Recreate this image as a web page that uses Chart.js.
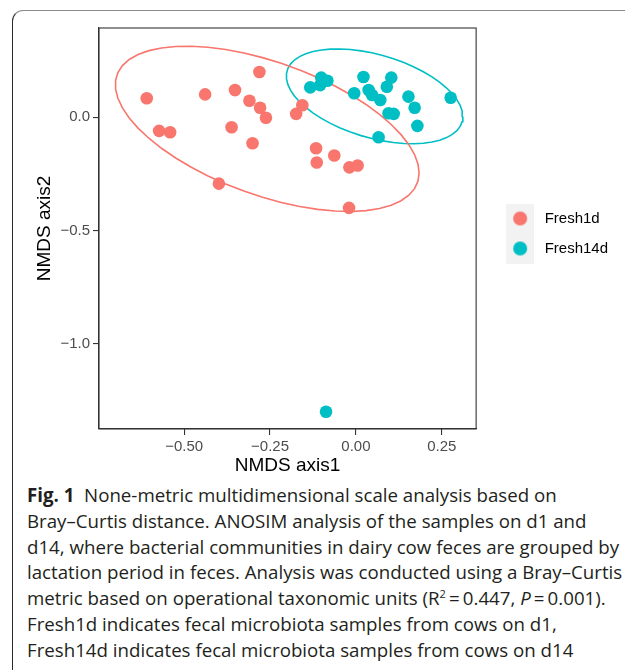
<!DOCTYPE html>
<html>
<head>
<meta charset="utf-8">
<script src="https://cdn.jsdelivr.net/npm/chart.js@4.4.1/dist/chart.umd.min.js"></script>
<style>
  html, body { margin: 0; padding: 0; background: #fff; }
  body { width: 625px; height: 670px; position: relative; overflow: hidden; }
  .frame { position: absolute; left: 12px; top: 10px; width: 700px; height: 700px;
           border-left: 1px solid #2b2b2b; border-top: 1px solid #8a8a8a; border-top-left-radius: 11px; }
  .plot { position: absolute; left: 0; top: 0; width: 625px; height: 480px; }
  .caption { position: absolute; left: 27px; top: 482px; font-family: 'Open Sans', sans-serif;
             font-size: 18.7px; line-height: 25.8px; color: #231f20; white-space: nowrap; }
  .caption b { font-weight: 700; }
  .caption sup { font-size: 11px; line-height: 0; vertical-align: 7px; }
</style>
</head>
<body>
<div class="frame"></div>
<div class="plot"><canvas id="nmds"></canvas></div>
<div class="caption">
  <b>Fig. 1</b>&nbsp; None-metric multidimensional scale analysis based on<br>
  Bray–Curtis distance. ANOSIM analysis of the samples on d1 and<br>
  d14, where bacterial communities in dairy cow feces are grouped by<br>
  lactation period in feces. Analysis was conducted using a Bray–Curtis<br>
  metric based on operational taxonomic units (R<sup>2</sup>&thinsp;=&thinsp;0.447, <i>P</i>&thinsp;=&thinsp;0.001).<br>
  Fresh1d indicates fecal microbiota samples from cows on d1,<br>
  Fresh14d indicates fecal microbiota samples from cows on d14
</div>
<script>
// NMDS coordinates
const fresh1dX = [-0.609, -0.439, -0.352, -0.281, -0.310, -0.279, -0.262, -0.573, -0.541, -0.362,
                  -0.301, -0.399, -0.174, -0.156, -0.116, -0.114, -0.063, -0.019, 0.005, -0.020];
const fresh1dY = [0.084, 0.101, 0.120, 0.200, 0.073, 0.042, -0.002, -0.060, -0.066, -0.044,
                  -0.115, -0.293, 0.015, 0.053, -0.137, -0.200, -0.169, -0.221, -0.213, -0.400];
const fresh14dX = [-0.133, -0.101, -0.104, -0.083, 0.022, -0.005, 0.037, 0.047, 0.071, 0.090,
                   0.103, 0.095, 0.110, 0.153, 0.171, 0.179, 0.276, 0.066, -0.087];
const fresh14dY = [0.132, 0.175, 0.142, 0.161, 0.178, 0.106, 0.120, 0.098, 0.076, 0.135,
                   0.175, 0.018, 0.015, 0.091, 0.042, -0.038, 0.086, -0.088, -1.300];

const groups = ['Fresh1d', 'Fresh14d'];
const groupColors = ['#F8766D', '#00BFC4'];
const xTicks = [-0.5, -0.25, 0, 0.25];
const yTicks = [-1.0, -0.5, 0];
const xRange = [-0.748, 0.35];
const yRange = [-1.376, 0.394];

const FONT = "'Liberation Sans', Arial, sans-serif";

// robust (multivariate t) covariance, like MASS::cov.trob used by stat_ellipse
function covTrob(xs, ys) {
    const n = xs.length, nu = 5;
    let w = new Array(n).fill(1);
    let lx = xs.reduce((s, v) => s + v, 0) / n;
    let ly = ys.reduce((s, v) => s + v, 0) / n;
    let dx = [], dy = [];
    for (let it = 0; it < 25; it++) {
        const w0 = w.slice();
        dx = xs.map(v => v - lx);
        dy = ys.map(v => v - ly);
        const sw = w.reduce((s, v) => s + v, 0);
        let a = 0, b = 0, c = 0;
        for (let i = 0; i < n; i++) {
            a += w[i] * dx[i] * dx[i] / sw;
            b += w[i] * dx[i] * dy[i] / sw;
            c += w[i] * dy[i] * dy[i] / sw;
        }
        const det = a * c - b * b;
        w = dx.map((x, i) => (nu + 2) / (nu + (c * x * x - 2 * b * x * dy[i] + a * dy[i] * dy[i]) / det));
        const sw2 = w.reduce((s, v) => s + v, 0);
        lx = xs.reduce((s, v, i) => s + w[i] * v, 0) / sw2;
        ly = ys.reduce((s, v, i) => s + w[i] * v, 0) / sw2;
        if (w.every((v, i) => Math.abs(v - w0[i]) < 0.01)) break;
    }
    let a = 0, b = 0, c = 0;
    for (let i = 0; i < n; i++) {
        a += w[i] * dx[i] * dx[i] / n;
        b += w[i] * dx[i] * dy[i] / n;
        c += w[i] * dy[i] * dy[i] / n;
    }
    return { cx: lx, cy: ly, a, b, c };
}

// 95% ellipse path, same recipe as ggplot2::stat_ellipse
function ellipsePath(xs, ys) {
    const { cx, cy, a, b, c } = covTrob(xs, ys);
    const dfd = xs.length - 1;
    const fq = (dfd / 2) * (Math.pow(0.05, -2 / dfd) - 1);
    const radius = Math.sqrt(2 * fq);
    const r11 = Math.sqrt(a), r12 = b / r11, r22 = Math.sqrt(c - r12 * r12);
    const pts = [];
    for (let k = 0; k <= 51; k++) {
        const t = 2 * Math.PI * k / 51;
        const ux = Math.cos(t), uy = Math.sin(t);
        pts.push({ x: cx + radius * ux * r11, y: cy + radius * (ux * r12 + uy * r22) });
    }
    return pts;
}

const toPoints = (xs, ys) => xs.map((x, i) => ({ x, y: ys[i] }));

// legend key: grey ggplot key square with the coloured dot
function keyImage(color) {
    const cv = document.createElement('canvas');
    cv.width = 40; cv.height = 30;
    const c = cv.getContext('2d');
    c.fillStyle = '#F2F2F2';
    c.fillRect(12, 0, 28, 30);
    c.fillStyle = color;
    c.beginPath();
    c.arc(26, 15, 7, 0, Math.PI * 2);
    c.fill();
    return cv;
}

const fmt = (v, d) => (v < -1e-9 ? '\u2212' : '') + Math.abs(v).toFixed(d);

const panelBorder = {
    id: 'panelBorder',
    afterDatasetsDraw(chart) {
        const { ctx, chartArea: a } = chart;
        ctx.save();
        ctx.strokeStyle = '#333333';
        ctx.lineWidth = 1.1;
        ctx.strokeRect(a.left, a.top, a.right - a.left, a.bottom - a.top);
        ctx.restore();
    }
};

new Chart(document.getElementById('nmds'), {
    type: 'scatter',
    data: {
        datasets: [
            { label: groups[0], data: toPoints(fresh1dX, fresh1dY), backgroundColor: groupColors[0],
              pointRadius: 6.3, pointHoverRadius: 6.3, borderWidth: 0 },
            { label: groups[1], data: toPoints(fresh14dX, fresh14dY), backgroundColor: groupColors[1],
              pointRadius: 6.3, pointHoverRadius: 6.3, borderWidth: 0 },
            { label: 'e1', data: ellipsePath(fresh1dX, fresh1dY), showLine: true, borderColor: groupColors[0],
              borderWidth: 1.6, pointRadius: 0, fill: false, tension: 0 },
            { label: 'e2', data: ellipsePath(fresh14dX, fresh14dY), showLine: true, borderColor: groupColors[1],
              borderWidth: 1.6, pointRadius: 0, fill: false, tension: 0 }
        ]
    },
    options: {
        responsive: true,
        maintainAspectRatio: false,
        animation: false,
        events: [],
        layout: { padding: { left: 30, top: 28, right: 7, bottom: 0 } },
        scales: {
            x: {
                type: 'linear', min: xRange[0], max: xRange[1],
                afterBuildTicks: s => { s.ticks = xTicks.map(v => ({ value: v })); },
                afterFit: s => { s.height = 51; },
                ticks: { callback: v => fmt(v, 2), color: '#4D4D4D', font: { family: FONT, size: 15 },
                         padding: 3, maxRotation: 0, autoSkip: false },
                grid: { drawOnChartArea: false, tickLength: 6, color: '#333333', lineWidth: 1.1 },
                border: { color: '#333333', width: 1.1 },
                title: { display: true, text: 'NMDS axis1', color: '#000', font: { family: FONT, size: 19 },
                         padding: { top: 0, bottom: 3 } }
            },
            y: {
                type: 'linear', min: yRange[0], max: yRange[1],
                afterBuildTicks: s => { s.ticks = yTicks.map(v => ({ value: v })); },
                afterFit: s => { s.width = 69; },
                ticks: { callback: v => fmt(v, 1), color: '#4D4D4D', font: { family: FONT, size: 15 },
                         padding: 3, autoSkip: false },
                grid: { drawOnChartArea: false, tickLength: 6, color: '#333333', lineWidth: 1.1 },
                border: { color: '#333333', width: 1.1 },
                title: { display: true, text: 'NMDS axis2', color: '#000', font: { family: FONT, size: 19 },
                         padding: { top: 3, bottom: 0 } }
            }
        },
        plugins: {
            tooltip: { enabled: false },
            legend: {
                position: 'right',
                fullSize: false,
                title: { display: true, text: '', padding: 0, font: { size: 10, lineHeight: 1 } },
                labels: {
                    usePointStyle: true,
                    pointStyleWidth: 46,
                    padding: 15,
                    color: '#000',
                    font: { family: FONT, size: 15 },
                    generateLabels: chart => Chart.defaults.plugins.legend.labels.generateLabels(chart)
                        .filter(item => item.datasetIndex < 2)
                        .map(item => Object.assign(item, { pointStyle: keyImage(groupColors[item.datasetIndex]) }))
                }
            }
        }
    },
    plugins: [panelBorder]
});
</script>
</body>
</html>
